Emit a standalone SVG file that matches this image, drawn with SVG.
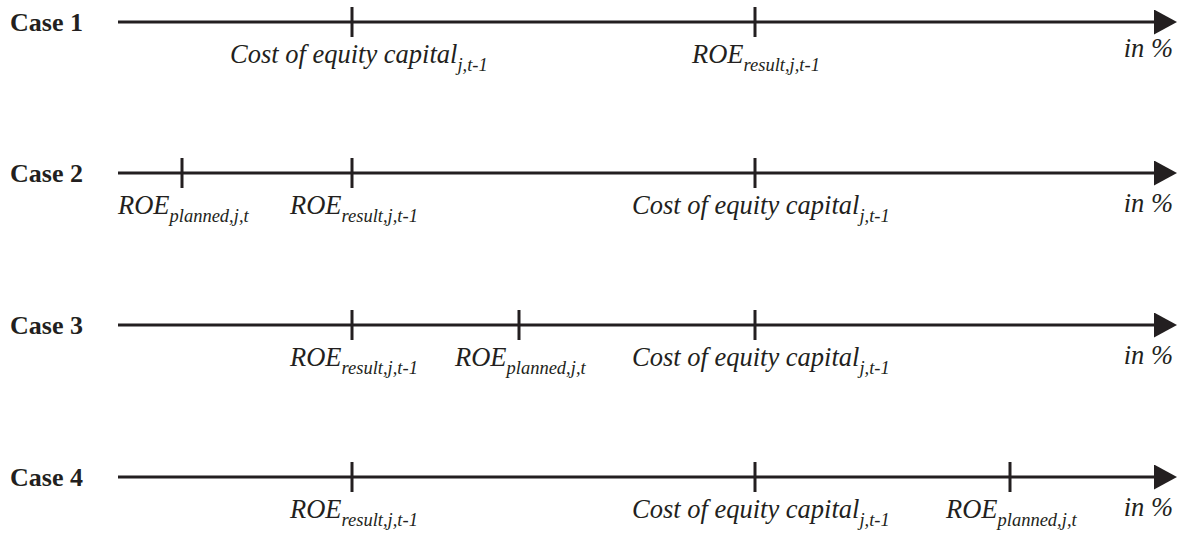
<svg xmlns="http://www.w3.org/2000/svg" width="1179" height="534" viewBox="0 0 1179 534">
<defs>
<style>
.axis{stroke:#231f20;stroke-width:3;fill:none}
.tick{stroke:#231f20;stroke-width:3}
.case{font-family:"Liberation Serif","Times New Roman",serif;font-weight:bold;font-size:26px;fill:#231f20}
.lbl{font-family:"Liberation Serif","Times New Roman",serif;font-style:italic;font-size:26.5px;fill:#231f20}
.sub{font-size:18.5px}
</style>
<marker id="arrow" markerUnits="userSpaceOnUse" markerWidth="24" markerHeight="26" refX="0" refY="12.5" orient="auto">
<path d="M0,0 L23,12.5 L0,25 z" fill="#231f20"/>
</marker>
</defs>
<rect width="1179" height="534" fill="#ffffff"/>

<g id="connectors">
<line class="axis" x1="118" y1="22" x2="1154" y2="22" marker-end="url(#arrow)"/>
<line class="axis" x1="118" y1="173" x2="1154" y2="173" marker-end="url(#arrow)"/>
<line class="axis" x1="118" y1="325" x2="1154" y2="325" marker-end="url(#arrow)"/>
<line class="axis" x1="118" y1="477" x2="1154" y2="477" marker-end="url(#arrow)"/>
</g>

<g id="case1">
<text class="case" x="10" y="31">Case 1</text>
<line class="tick" x1="352" y1="7" x2="352" y2="37"/>
<line class="tick" x1="755" y1="7" x2="755" y2="37"/>
<text class="lbl" x="230" y="63">Cost of equity capital<tspan class="sub" dy="8">j,t-1</tspan></text>
<text class="lbl" x="692" y="63">ROE<tspan class="sub" dy="8">result,j,t-1</tspan></text>
<text class="lbl" x="1173" y="57" text-anchor="end">in %</text>
</g>

<g id="case2">
<text class="case" x="10" y="182">Case 2</text>
<line class="tick" x1="182" y1="158" x2="182" y2="188"/>
<line class="tick" x1="352" y1="158" x2="352" y2="188"/>
<line class="tick" x1="755" y1="158" x2="755" y2="188"/>
<text class="lbl" x="118" y="214">ROE<tspan class="sub" dy="8">planned,j,t</tspan></text>
<text class="lbl" x="290" y="214">ROE<tspan class="sub" dy="8">result,j,t-1</tspan></text>
<text class="lbl" x="632" y="214">Cost of equity capital<tspan class="sub" dy="8">j,t-1</tspan></text>
<text class="lbl" x="1173" y="212" text-anchor="end">in %</text>
</g>

<g id="case3">
<text class="case" x="10" y="334">Case 3</text>
<line class="tick" x1="352" y1="310" x2="352" y2="340"/>
<line class="tick" x1="519" y1="310" x2="519" y2="340"/>
<line class="tick" x1="755" y1="310" x2="755" y2="340"/>
<text class="lbl" x="290" y="366">ROE<tspan class="sub" dy="8">result,j,t-1</tspan></text>
<text class="lbl" x="455" y="366">ROE<tspan class="sub" dy="8">planned,j,t</tspan></text>
<text class="lbl" x="632" y="366">Cost of equity capital<tspan class="sub" dy="8">j,t-1</tspan></text>
<text class="lbl" x="1173" y="364" text-anchor="end">in %</text>
</g>

<g id="case4">
<text class="case" x="10" y="486">Case 4</text>
<line class="tick" x1="352" y1="462" x2="352" y2="492"/>
<line class="tick" x1="755" y1="462" x2="755" y2="492"/>
<line class="tick" x1="1010" y1="462" x2="1010" y2="492"/>
<text class="lbl" x="290" y="518">ROE<tspan class="sub" dy="8">result,j,t-1</tspan></text>
<text class="lbl" x="632" y="518">Cost of equity capital<tspan class="sub" dy="8">j,t-1</tspan></text>
<text class="lbl" x="946" y="518">ROE<tspan class="sub" dy="8">planned,j,t</tspan></text>
<text class="lbl" x="1173" y="516" text-anchor="end">in %</text>
</g>
</svg>
